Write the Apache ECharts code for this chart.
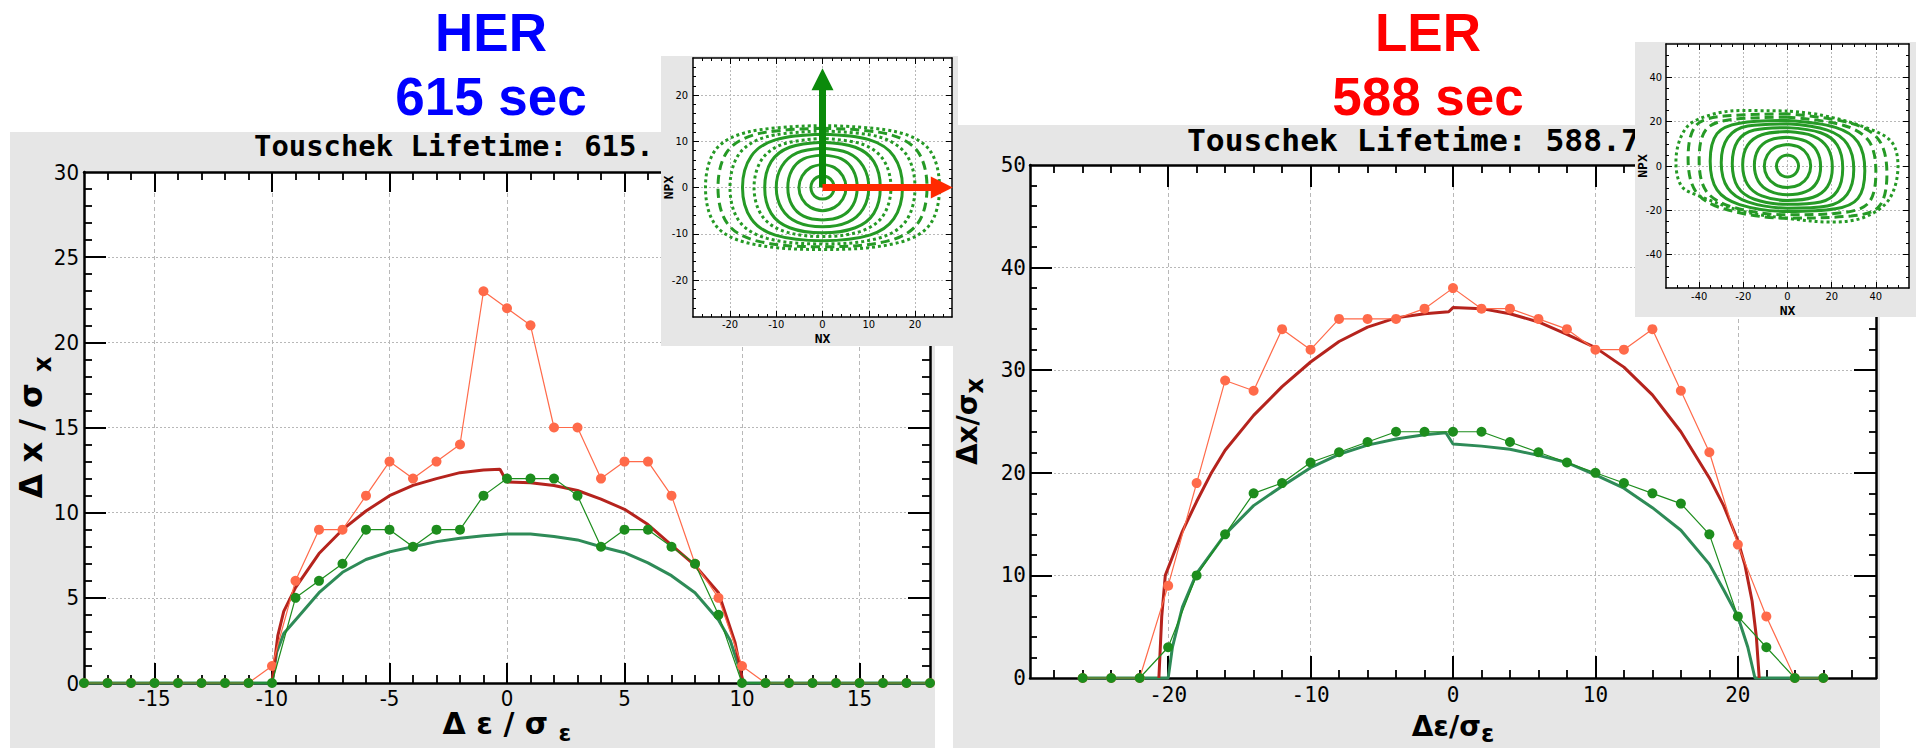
<!DOCTYPE html>
<html>
<head>
<meta charset="utf-8">
<title>Touschek lifetime – momentum aperture HER / LER</title>
<script src="https://cdn.jsdelivr.net/npm/echarts@6/dist/echarts.min.js"></script>
<style>
  html, body { margin: 0; padding: 0; background: #ffffff; }
  #chart { width: 1916px; height: 748px; }
</style>
</head>
<body>
<div id="chart"></div>
<script>
// ---------------- HER: transverse aperture vs. momentum deviation ----------------
const herEps = [-18,-17,-16,-15,-14,-13,-12,-11,-10,-9,-8,-7,-6,-5,-4,-3,-2,-1,0,1,2,3,4,5,6,7,8,9,10,11,12,13,14,15,16,17,18];
const herTrackRed   = [0,0,0,0,0,0,0,0,1,6,9,9,11,13,12,13,14,23,22,21,15,15,12,13,13,11,7,5,1,0,0,0,0,0,0,0,0];
const herTrackGreen = [0,0,0,0,0,0,0,0,0,5,6,7,9,9,8,9,9,11,12,12,12,11,8,9,9,8,7,4,0,0,0,0,0,0,0,0,0];
const herCurveRed = [[-10,0],[-9.75,2.8],[-9.5,4.2],[-9,5.6],[-8,7.6],[-7,9.0],[-6,10.1],[-5,11.0],[-4,11.6],[-3,12.0],[-2,12.35],[-1,12.5],[-0.3,12.55],[0,11.8],[1,11.75],[2,11.6],[3,11.3],[4,10.8],[5,10.2],[6,9.3],[7,8.1],[8,6.9],[9,5.3],[9.7,2.4],[10.05,0]];
const herCurveGreen = [[-18,0],[-10,0],[-9.8,1.8],[-9.5,2.9],[-9,3.7],[-8,5.3],[-7,6.5],[-6,7.25],[-5,7.7],[-4,8.0],[-3,8.3],[-2,8.5],[-1,8.65],[0,8.75],[1,8.75],[2,8.6],[3,8.4],[4,8.0],[5,7.65],[6,7.05],[7,6.3],[8,5.3],[9,3.7],[9.5,2.5],[9.9,0.8],[10.05,0],[18,0]];
const herXLabels = [-15,-10,-5,0,5,10,15];
const herYLabels = [0,5,10,15,20,25,30];
const herYTicks  = [5,10,15,20,25];

// ---------------- LER: transverse aperture vs. momentum deviation ----------------
const lerEps = [-26,-24,-22,-20,-18,-16,-14,-12,-10,-8,-6,-4,-2,0,2,4,6,8,10,12,14,16,18,20,22,24,26];
const lerTrackRed   = [0,0,0,9,19,29,28,34,32,35,35,35,36,38,36,36,35,34,32,32,34,28,22,13,6,0,0];
const lerTrackGreen = [0,0,0,3,10,14,18,19,21,22,23,24,24,24,24,23,22,21,20,19,18,17,14,6,3,0,0];
const lerCurveRed = [[-20.65,0],[-20.45,6],[-20.2,10],[-19.7,11.8],[-19,14.3],[-18,17.2],[-17,19.9],[-16,22.2],[-14,25.6],[-12,28.4],[-10,30.8],[-8,32.8],[-6,34.2],[-4,35.1],[-2,35.5],[-0.3,35.7],[0,36.1],[2,36.0],[4,35.5],[6,34.7],[8,33.5],[10,32.2],[12,30.3],[14,27.6],[16,24],[18,19.5],[19,16.8],[20,13.4],[20.5,11],[21,7.5],[21.3,4],[21.5,0]];
const lerCurveGreen = [[-26,0],[-20,0],[-19.7,3],[-19,6.9],[-18,10.2],[-16,14],[-14,16.8],[-12,18.7],[-10,20.5],[-8,21.8],[-6,22.7],[-4,23.3],[-2,23.7],[-0.5,23.9],[0,22.8],[2,22.6],[4,22.3],[6,21.7],[8,21],[10,19.8],[12,18.5],[14,16.6],[16,14.4],[18,11.1],[19,8.6],[20,6],[20.7,3],[21.2,0],[26,0]];
const lerXLabels = [-20,-10,0,10,20];
const lerYLabels = [0,10,20,30,40,50];
const lerYTicks  = [10,20,30,40];

// ---------------- HER phase space (NX, NPX), one closed orbit per row ----------------
const herOrbits = [
  [[0,2.5],[-1.25,2.2],[-2.2,1.25],[-2.5,0],[-2.2,-1.25],[-1.25,-2.2],[0,-2.5],[1.25,-2.2],[2.2,-1.25],[2.5,0],[2.2,1.25],[1.25,2.2]],
  [[0,5],[-2.6,4.3],[-4.4,2.5],[-5.1,0],[-4.4,-2.5],[-2.6,-4.3],[0,-5],[2.6,-4.3],[4.4,-2.5],[5.1,0],[4.4,2.5],[2.6,4.3]],
  [[0,7],[-4.1,6.2],[-6.6,3.8],[-7.5,0],[-6.6,-3.8],[-4.1,-6.2],[0,-7],[4.1,-6.2],[6.6,-3.8],[7.5,0],[6.6,3.8],[4.1,6.2]],
  [[0,8.5],[-5.5,7.5],[-8.8,4.6],[-10,0],[-8.8,-4.6],[-5.5,-7.5],[0,-8.5],[5.5,-7.5],[8.8,-4.6],[10,0],[8.8,4.6],[5.5,7.5]],
  [[0,9.8],[-7.1,8.7],[-11.1,5.6],[-12.5,0],[-11.1,-5.6],[-7.1,-8.7],[0,-9.8],[7.1,-8.7],[11.1,-5.6],[12.5,0],[11.1,5.6],[7.1,8.7]],
  [[0,10.6],[-8.5,9.4],[-13.1,6.1],[-14.8,0],[-13.1,-6.1],[-8.5,-9.4],[0,-10.6],[8.5,-9.4],[13.1,-6.1],[14.8,0],[13.1,6.1],[8.5,9.4]],
  [[0,11.5],[-10.2,10.3],[-15.4,6.8],[-17.3,0],[-15.4,-6.8],[-10.2,-10.3],[0,-11.5],[10.2,-10.3],[15.4,-6.8],[17.3,0],[15.4,6.8],[10.2,10.3]],
  [[0,12.2],[-12,11],[-18,7.3],[-20,0],[-18,-7.3],[-12,-11],[0,-12.2],[12,-11],[18,-7.3],[20,0],[18,7.3],[12,11]],
  [[0,12.8],[-14,11.6],[-20.5,7.9],[-22.6,0],[-20.5,-7.9],[-14,-11.6],[0,-12.8],[14,-11.6],[20.5,-7.9],[22.6,0],[20.5,7.9],[14,11.6]],
  [[0,13.4],[-15.7,12.1],[-23,8.3],[-25.3,0],[-23,-8.3],[-15.7,-12.1],[0,-13.4],[15.7,-12.1],[23,-8.3],[25.3,0],[23,8.3],[15.7,12.1]]
];
const herOrbitDash = ['solid','solid','solid','solid','solid','dotted','solid','dotted','dashed','dotted'];
const herTicks = [-20,-10,0,10,20];
// direction arrows drawn on the HER phase-space panel
const herArrowVertical   = [[0,0],[0,23.4]];
const herArrowHorizontal = [[0,0],[25.8,0]];

// ---------------- LER phase space (NX, NPX) ----------------
const lerOrbits = [
  [[0,5],[-2.5,4.3],[-4.3,2.5],[-5,0],[-4.3,-2.5],[-2.5,-4.3],[0,-5],[2.5,-4.3],[4.3,-2.5],[5,0],[4.3,2.5],[2.5,4.3]],
  [[0,9.7],[-5.5,8.4],[-9.1,5],[-10.5,0],[-9.1,-5],[-5.5,-8.4],[0,-9.7],[5.5,-8.4],[9.1,-5],[10.5,0],[9.1,5],[5.5,8.4]],
  [[0,13],[-8.3,11.6],[-13.2,7.5],[-15,0.3],[-13.2,-6.9],[-8.3,-11.2],[0,-13],[8.3,-11.6],[13.2,-7.5],[15,-0.3],[13.2,6.9],[8.3,11.2]],
  [[0,15.5],[-11.6,14.1],[-18.1,9.3],[-20.3,0.6],[-18.1,-8.3],[-11.6,-13.5],[0,-15.5],[11.6,-14.1],[18.1,-9.3],[20.3,-0.6],[18.1,8.3],[11.6,13.5]],
  [[0,17.3],[-15,16.2],[-22.5,11.3],[-25,1],[-22.5,-9.5],[-15,-15],[0,-17.3],[15,-16.2],[22.5,-11.3],[25,-1],[22.5,9.5],[15,15]],
  [[0,19],[-18,18],[-27,12.8],[-30,1.5],[-27,-10],[-18,-16.2],[0,-19],[18,-18],[27,-12.8],[30,-1.5],[27,10],[18,16.2]],
  [[0,20.5],[-21.7,19.3],[-31.9,14.6],[-35,2.1],[-31.9,-10.8],[-21.7,-17.4],[0,-20.5],[21.7,-19.3],[31.9,-14.6],[35,-2.1],[31.9,10.8],[21.7,17.4]],
  [[0,22],[-25.2,21],[-36.8,16.5],[-40,2.8],[-36.8,-11.3],[-25.2,-18.4],[0,-22],[25.2,-21],[36.8,-16.5],[40,-2.8],[36.8,11.3],[25.2,18.4]],
  [[0,23.5],[-28.8,22.5],[-41.4,18.3],[-45,3.6],[-41.4,-11.7],[-28.8,-19.3],[0,-23.5],[28.8,-22.5],[41.4,-18.3],[45,-3.6],[41.4,11.7],[28.8,19.3]],
  [[0,24.8],[-20,25],[-35,23],[-46,17],[-50.5,2],[-48,-9],[-40,-13.5],[-20,-20.5],[0,-23.6],[20,-25.3],[35,-23],[46,-15],[50,0],[47,11],[35,17.5],[15,23]]
];
const lerOrbitDash = ['solid','solid','solid','solid','solid','solid','solid','dashed','dashed','dotted'];
const lerTicks = [-40,-20,0,20,40];

// ---------------- palette ----------------
const C_TRACK_RED = '#ff6a4a';
const C_TRACK_GREEN = '#1d8d1d';
const C_CURVE_RED = '#b5231d';
const C_CURVE_GREEN = '#2e8b57';
const C_ORBIT = '#259a25';
const C_PANEL = '#e6e6e6';

const NARROW = '"Liberation Sans Narrow", "DejaVu Sans Condensed", "Roboto Condensed", sans-serif';
const MONO = '"DejaVu Sans Mono", "Liberation Mono", monospace';
const SANS = '"DejaVu Sans", "Liberation Sans", sans-serif';

function range(from, to, step) {
  const out = [];
  for (let v = from; v <= to + 1e-9; v += step) out.push(+v.toFixed(6));
  return out;
}

const grids = [], xAxes = [], yAxes = [], series = [];

// A framed plot: one grid carries the labelled major ticks on all four sides,
// a second grid over the same rectangle carries the short minor ticks.
function addPanel(p) {
  const rect = { left: p.rect[0], top: p.rect[1], width: p.rect[2], height: p.rect[3],
    containLabel: false, outerBoundsMode: 'none' };
  const gMain = grids.length;
  grids.push(Object.assign({ show: true, backgroundColor: '#ffffff', borderWidth: 0, z: p.z }, rect));
  const gMinor = grids.length;
  grids.push(Object.assign({ show: false, z: p.z }, rect));

  const frame = { show: true, onZero: false, lineStyle: { color: '#000', width: p.frameWidth } };
  const noLine = { show: false, onZero: false };
  const tick = (values, len, w) => ({ show: true, inside: true, length: len, customValues: values, lineStyle: { color: '#000', width: w } });
  const label = (values, margin) => ({ show: true, customValues: values, margin: margin, color: '#000',
    fontFamily: p.font, fontSize: p.fontSize, lineHeight: p.labelLineHeight });
  const split = (dash) => ({ show: true, lineStyle: { color: '#b8b8b8', width: 1, type: dash } });
  const off = { show: false };
  const base = (dim, gridIndex, position) => ({
    type: 'value', gridIndex: gridIndex, position: position,
    min: dim === 'x' ? p.x[0] : p.y[0], max: dim === 'x' ? p.x[1] : p.y[1],
    z: p.z + 1, silent: true, axisPointer: { show: false }
  });

  const xi = xAxes.length;
  xAxes.push(Object.assign(base('x', gMain, 'bottom'), {
    axisLine: frame, axisTick: tick(p.xTicks, p.majorLen[0], p.tickWidth),
    axisLabel: label(p.xLabels, p.xMargin), splitLine: split(p.xDash),
    name: p.xName, nameLocation: 'middle', nameGap: p.xNameGap, nameTextStyle: p.xNameStyle,
    nameMoveOverlap: false
  }));
  xAxes.push(Object.assign(base('x', gMain, 'top'), {
    axisLine: frame, axisTick: tick(p.xTicks, p.majorLen[0], p.tickWidth), axisLabel: off, splitLine: off
  }));
  xAxes.push(Object.assign(base('x', gMinor, 'bottom'), {
    axisLine: noLine, axisTick: tick(p.xMinor, p.minorLen[0], p.minorWidth), axisLabel: off, splitLine: off
  }));
  xAxes.push(Object.assign(base('x', gMinor, 'top'), {
    axisLine: noLine, axisTick: tick(p.xMinor, p.minorLen[0], p.minorWidth), axisLabel: off, splitLine: off
  }));

  const yi = yAxes.length;
  yAxes.push(Object.assign(base('y', gMain, 'left'), {
    axisLine: frame, axisTick: tick(p.yTicks, p.majorLen[1], p.tickWidth),
    axisLabel: label(p.yLabels, p.yMargin), splitLine: split(p.yDash),
    name: p.yName, nameLocation: 'middle', nameGap: p.yNameGap, nameTextStyle: p.yNameStyle,
    nameMoveOverlap: false
  }));
  yAxes.push(Object.assign(base('y', gMain, 'right'), {
    axisLine: frame, axisTick: tick(p.yTicks, p.majorLen[1], p.tickWidth), axisLabel: off, splitLine: off
  }));
  yAxes.push(Object.assign(base('y', gMinor, 'left'), {
    axisLine: noLine, axisTick: tick(p.yMinor, p.minorLen[1], p.minorWidth), axisLabel: off, splitLine: off
  }));
  yAxes.push(Object.assign(base('y', gMinor, 'right'), {
    axisLine: noLine, axisTick: tick(p.yMinor, p.minorLen[1], p.minorWidth), axisLabel: off, splitLine: off
  }));
  return { x: xi, y: yi, z: p.z };
}

// Axis title with a lowered subscript: top padding on the subscript token shifts
// its glyphs down by half the padding, while its small line height keeps the box compact.
function axisTitle(size, lineH, subSize, drop) {
  return {
    fontFamily: SANS, fontWeight: 'bold', fontSize: size, lineHeight: lineH, color: '#000',
    rich: { s: { fontFamily: SANS, fontWeight: 'bold', fontSize: subSize, lineHeight: 4,
      padding: [2 * drop, 0, 0, 0], color: '#000' } }
  };
}
const insetTitle = { fontFamily: MONO, fontWeight: 'bold', fontSize: 13, lineHeight: 10, color: '#000' };

// ---------------- panels ----------------
const herMain = addPanel({
  rect: [84, 172, 846, 511], x: [-18, 18], y: [0, 30], z: 0,
  xTicks: herXLabels, xLabels: herXLabels, xMinor: range(-17, 17, 1),
  yTicks: herYTicks, yLabels: herYLabels, yMinor: range(1, 29, 1),
  majorLen: [20, 22], minorLen: [8, 8], frameWidth: 2.5, tickWidth: 2, minorWidth: 1.8,
  font: NARROW, fontSize: 22, labelLineHeight: 16, xMargin: 7, yMargin: 5, xDash: [4, 3], yDash: [2, 2],
  xName: 'Δ ε / σ {s|ε}', xNameGap: 25, xNameStyle: axisTitle(30, 30, 23, 10),
  yName: 'Δ x / σ {s|x}', yNameGap: 37, yNameStyle: axisTitle(32, 32, 24, 12)
});

const lerMain = addPanel({
  rect: [1030, 165, 846, 513], x: [-29.7, 29.7], y: [0, 50], z: 0,
  xTicks: lerXLabels, xLabels: lerXLabels, xMinor: range(-28, 28, 2),
  yTicks: lerYTicks, yLabels: lerYLabels, yMinor: range(2, 48, 2),
  majorLen: [22, 22], minorLen: [8, 7], frameWidth: 2.5, tickWidth: 2, minorWidth: 1.8,
  font: MONO, fontSize: 21, labelLineHeight: 16, xMargin: 8.5, yMargin: 4, xDash: [4, 3], yDash: [2, 2],
  xName: 'Δε/σ{s|ε}', xNameGap: 34, xNameStyle: axisTitle(28, 28, 24, 8),
  yName: 'Δx/σ{s|x}', yNameGap: 49, yNameStyle: axisTitle(28, 28, 24, 8)
});

const herInset = addPanel({
  rect: [693, 58, 259, 259], x: [-28, 28], y: [-28, 28], z: 21,
  xTicks: herTicks, xLabels: herTicks, xMinor: range(-26, 26, 2),
  yTicks: herTicks, yLabels: herTicks, yMinor: range(-26, 26, 2),
  majorLen: [6, 6], minorLen: [3, 3], frameWidth: 1.5, tickWidth: 1, minorWidth: 1,
  font: NARROW, fontSize: 11, labelLineHeight: 8, xMargin: 3.5, yMargin: 5, xDash: [2, 2], yDash: [2, 2],
  xName: 'NX', xNameGap: 16, xNameStyle: insetTitle,
  yName: 'NPX', yNameGap: 20, yNameStyle: insetTitle
});

const lerInset = addPanel({
  rect: [1666, 44, 243, 244], x: [-55, 55], y: [-55, 55], z: 21,
  xTicks: lerTicks, xLabels: lerTicks, xMinor: range(-50, 50, 5),
  yTicks: lerTicks, yLabels: lerTicks, yMinor: range(-50, 50, 5),
  majorLen: [6, 6], minorLen: [3, 3], frameWidth: 1.5, tickWidth: 1, minorWidth: 1,
  font: NARROW, fontSize: 11, labelLineHeight: 8, xMargin: 4.5, yMargin: 4, xDash: [2, 2], yDash: [2, 2],
  xName: 'NX', xNameGap: 17, xNameStyle: insetTitle,
  yName: 'NPX', yNameGap: 19, yNameStyle: insetTitle
});

// ---------------- series ----------------
function curve(ax, data, color, width, z) {
  series.push({
    type: 'line', xAxisIndex: ax.x, yAxisIndex: ax.y, data: data,
    showSymbol: false, symbol: 'none', clip: false, silent: true, z: z,
    lineStyle: { color: color, width: width }
  });
}
function track(ax, eps, values, color, z) {
  series.push({
    type: 'line', xAxisIndex: ax.x, yAxisIndex: ax.y,
    data: eps.map((e, i) => [e, values[i]]),
    symbol: 'circle', symbolSize: 10, showSymbol: true, clip: false, silent: true, z: z,
    itemStyle: { color: color, borderWidth: 0 },
    lineStyle: { color: color, width: 1.2 }
  });
}
function orbits(ax, rings, dashes) {
  const dashMap = { solid: 'solid', dotted: [3, 3], dashed: [9, 5] };
  rings.forEach((ring, i) => {
    series.push({
      type: 'line', xAxisIndex: ax.x, yAxisIndex: ax.y,
      data: ring.concat([ring[0]]), smooth: 0.35,
      showSymbol: false, symbol: 'none', silent: true, z: ax.z + 3,
      lineStyle: { color: C_ORBIT, width: 3, type: dashMap[dashes[i]] }
    });
  });
}
function arrow(ax, coords, color) {
  series.push({
    type: 'lines', coordinateSystem: 'cartesian2d', xAxisIndex: ax.x, yAxisIndex: ax.y,
    data: [{ coords: coords }], symbol: ['none', 'triangle'], symbolSize: 22,
    clip: false, silent: true, z: ax.z + 5,
    lineStyle: { color: color, width: 7, opacity: 1, curveness: 0 }
  });
}

curve(herMain, herCurveGreen, C_CURVE_GREEN, 3, 2);
curve(herMain, herCurveRed, C_CURVE_RED, 3, 3);
track(herMain, herEps, herTrackRed, C_TRACK_RED, 4);
track(herMain, herEps, herTrackGreen, C_TRACK_GREEN, 5);

curve(lerMain, lerCurveGreen, C_CURVE_GREEN, 3, 2);
curve(lerMain, lerCurveRed, C_CURVE_RED, 3, 3);
track(lerMain, lerEps, lerTrackRed, C_TRACK_RED, 4);
track(lerMain, lerEps, lerTrackGreen, C_TRACK_GREEN, 5);

orbits(herInset, herOrbits, herOrbitDash);
arrow(herInset, herArrowVertical, '#0b8a0b');
arrow(herInset, herArrowHorizontal, '#ff2a00');
orbits(lerInset, lerOrbits, lerOrbitDash);

// ---------------- backgrounds and headings ----------------
function heading(text, x, y, color) {
  return { type: 'text', x: x, y: y, z: 1, silent: true,
    style: { text: text, fill: color, font: 'bold 53px "Liberation Sans", Arial, sans-serif',
      align: 'center', verticalAlign: 'middle', textAlign: 'center', textVerticalAlign: 'middle' } };
}
function lifetime(text, x, y, size, stretch) {
  return { type: 'text', x: x, y: y, z: 1, silent: true, scaleX: stretch,
    style: { text: text, fill: '#000', font: 'bold ' + size + 'px ' + MONO,
      align: 'left', verticalAlign: 'middle', textAlign: 'left', textVerticalAlign: 'middle' } };
}

const graphic = { elements: [
  { type: 'rect', z: -5, silent: true, shape: { x: 10, y: 132, width: 925, height: 616 }, style: { fill: C_PANEL } },
  { type: 'rect', z: -5, silent: true, shape: { x: 953, y: 125, width: 927, height: 623 }, style: { fill: C_PANEL } },
  { type: 'rect', z: 20, silent: true, shape: { x: 661, y: 56, width: 297, height: 290 }, style: { fill: C_PANEL } },
  { type: 'rect', z: 20, silent: true, shape: { x: 1635, y: 42, width: 281, height: 275 }, style: { fill: C_PANEL } },
  heading('HER', 491, 32.5, '#0000ff'),
  heading('615 sec', 491, 96, '#0000ff'),
  heading('LER', 1428, 32.5, '#ff0000'),
  heading('588 sec', 1428, 96, '#ff0000'),
  lifetime('Touschek Lifetime: 615.', 254, 147, 27.5, 1.05),
  lifetime('Touschek Lifetime: 588.7', 1187, 141, 30, 1.045)
] };

const chart = echarts.init(document.getElementById('chart'), null, { renderer: 'svg' });
chart.setOption({
  animation: false,
  backgroundColor: '#ffffff',
  grid: grids,
  xAxis: xAxes,
  yAxis: yAxes,
  series: series,
  graphic: graphic
});
</script>
</body>
</html>
